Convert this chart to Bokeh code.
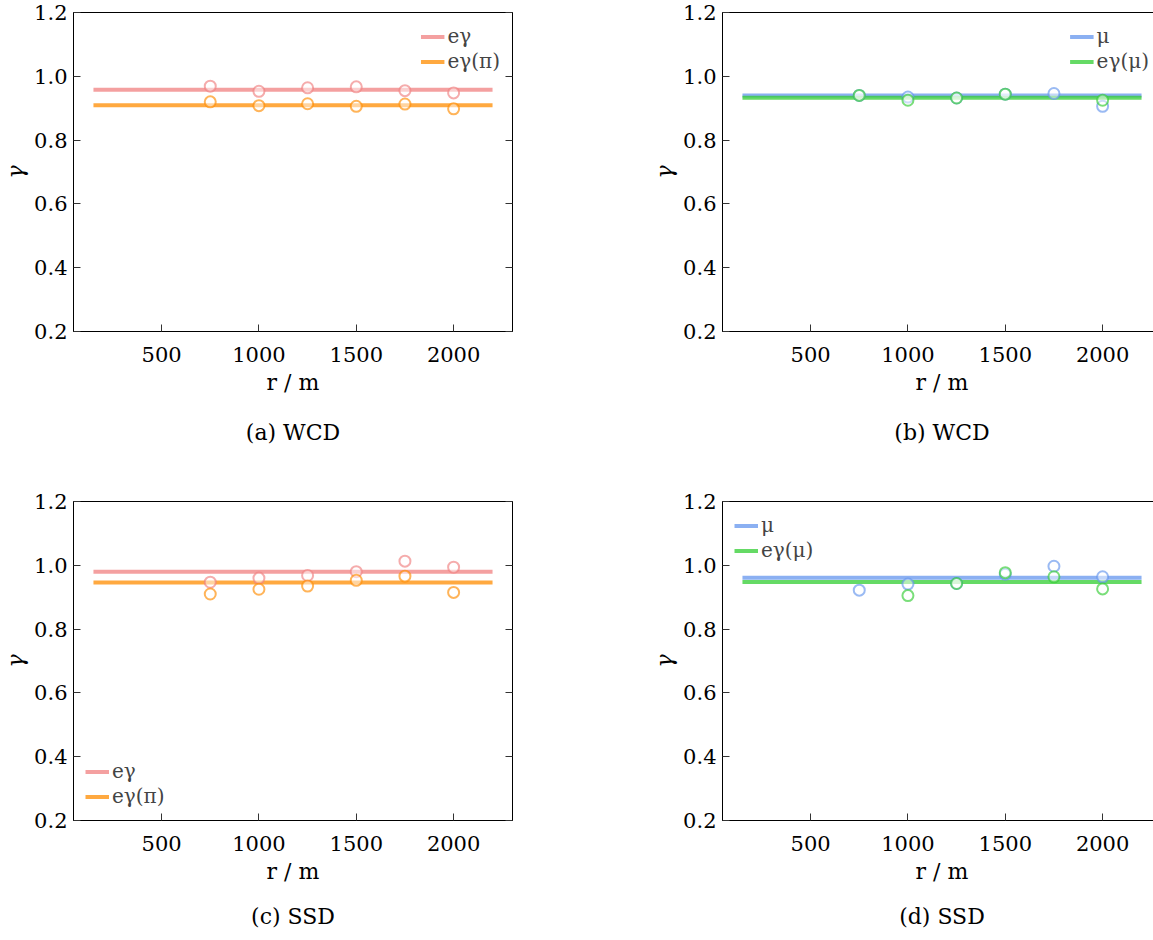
from bokeh.plotting import figure
from bokeh.models import Range1d, LinearAxis, FixedTicker, Title
from bokeh.layouts import row, column
from bokeh.embed import file_html
from bokeh.resources import INLINE

nan = float("nan")

# ---------------- data ----------------
r = [750, 1000, 1250, 1500, 1750, 2000]
fit_r = [150, 2200]
x_ticks = [500, 1000, 1500, 2000]
y_ticks = [0.2, 0.4, 0.6, 0.8, 1.0, 1.2]
y_tick_labels = ["0.2", "0.4", "0.6", "0.8", "1.0", "1.2"]

# (a) WCD
a_eg = [0.969, 0.953, 0.964, 0.967, 0.955, 0.948]
a_egpi = [0.920, 0.908, 0.914, 0.906, 0.913, 0.898]
a_eg_fit = 0.958
a_egpi_fit = 0.909

# (b) WCD
b_mu = [0.940, 0.935, 0.932, 0.944, 0.946, 0.906]
b_egmu = [0.940, 0.925, 0.932, 0.944, nan, 0.925]
b_mu_fit = 0.940
b_egmu_fit = 0.933

# (c) SSD
c_eg = [0.947, 0.960, 0.968, 0.980, 1.013, 0.994]
c_egpi = [0.910, 0.925, 0.935, 0.953, 0.966, 0.915]
c_eg_fit = 0.980
c_egpi_fit = 0.946

# (d) SSD
d_mu = [0.922, 0.941, 0.943, 0.972, 0.997, 0.964]
d_egmu = [nan, 0.905, 0.943, 0.977, 0.964, 0.926]
d_mu_fit = 0.961
d_egmu_fit = 0.948

labels_a = ["eγ", "eγ(π)"]
labels_b = ["μ", "eγ(μ)"]
captions = ["(a) WCD", "(b) WCD", "(c) SSD", "(d) SSD"]

PINK = "#F08080"
ORANGE = "#FF8C00"
BLUE = "#6495ED"
GREEN = "#32CD32"

FONT = "DejaVu Serif"


def make_panel(series, caption, legend_loc, bl, bt, br, bb, cap_standoff,
               leg_margin):
    p = figure(
        x_range=Range1d(47.5, 2302.5),
        y_range=Range1d(0.2, 1.2),
        frame_width=439,
        frame_height=319,
        min_border_left=bl,
        min_border_top=bt,
        min_border_right=br,
        min_border_bottom=bb,
        output_backend="svg",
        toolbar_location=None,
        background_fill_color="white",
        border_fill_color="white",
    )
    p.grid.visible = False
    p.outline_line_color = "black"
    p.outline_line_width = 1

    for vals, fit, color, label in series:
        p.line(fit_r, [fit, fit], line_color=color, line_alpha=0.75,
               line_width=4, legend_label=label)
    for vals, fit, color, label in series:
        p.scatter(r, vals, marker="circle", size=11, line_color=color,
                  line_alpha=0.65, line_width=2, fill_color="white",
                  fill_alpha=0.5)

    xa = p.xaxis[0]
    xa.ticker = FixedTicker(ticks=x_ticks)
    xa.axis_label = "r / m"
    ya = p.yaxis[0]
    ya.ticker = FixedTicker(ticks=y_ticks)
    ya.major_label_overrides = {t: s for t, s in zip(y_ticks, y_tick_labels)}
    ya.axis_label = "γ"

    for ax in (xa, ya):
        ax.major_tick_in = 7
        ax.major_tick_out = 0
        ax.minor_tick_line_color = None
        ax.major_tick_line_color = "#333333"
        ax.axis_line_color = "black"
        ax.major_label_text_font = FONT
        ax.major_label_text_font_size = "21px"
        ax.major_label_text_color = "black"
        ax.axis_label_text_font = FONT
        ax.axis_label_text_font_size = "22px"
        ax.axis_label_text_color = "black"
    xa.major_label_standoff = 15
    xa.axis_label_standoff = 5
    xa.axis_label_text_font_style = "normal"
    ya.axis_label_text_font_style = "italic"
    ya.major_label_standoff = 6
    ya.axis_label_standoff = 3

    ra = LinearAxis(ticker=FixedTicker(ticks=y_ticks))
    ra.major_tick_in = 7
    ra.major_tick_out = 0
    ra.minor_tick_line_color = None
    ra.major_tick_line_color = "#333333"
    ra.major_label_text_font_size = "1px"
    ra.major_label_text_color = None
    ra.major_label_standoff = 0
    ra.axis_line_color = "black"
    p.add_layout(ra, "right")

    t = Title(text=caption, align="center", text_font=FONT,
              text_font_size="22px", text_font_style="normal",
              text_color="black", standoff=cap_standoff)
    p.add_layout(t, "below")

    lg = p.legend[0]
    lg.location = legend_loc
    lg.border_line_color = None
    lg.background_fill_alpha = 0
    lg.label_text_font = FONT
    lg.label_text_font_size = "20px"
    lg.glyph_width = 24
    lg.glyph_height = 23
    lg.label_height = 23
    lg.spacing = 1
    lg.padding = 0
    lg.margin = leg_margin
    lg.label_standoff = 3
    return p


pa = make_panel([(a_eg, a_eg_fit, PINK, labels_a[0]),
                 (a_egpi, a_egpi_fit, ORANGE, labels_a[1])],
                captions[0], "top_right", 60, 12, 137, 129, 40, 12)
pb = make_panel([(b_mu, b_mu_fit, BLUE, labels_b[0]),
                 (b_egmu, b_egmu_fit, GREEN, labels_b[1])],
                captions[1], "top_right", 60, 12, 2, 129, 40, 12)
pc = make_panel([(c_eg, c_eg_fit, PINK, labels_a[0]),
                 (c_egpi, c_egpi_fit, ORANGE, labels_a[1])],
                captions[2], "bottom_left", 60, 37, 137, 99, 30, 12)
pd = make_panel([(d_mu, d_mu_fit, BLUE, labels_b[0]),
                 (d_egmu, d_egmu_fit, GREEN, labels_b[1])],
                captions[3], "top_left", 60, 37, 2, 99, 30, 12)

layout = column(row(pa, pb), row(pc, pd))

open("out.html", "w").write(file_html(layout, INLINE))
